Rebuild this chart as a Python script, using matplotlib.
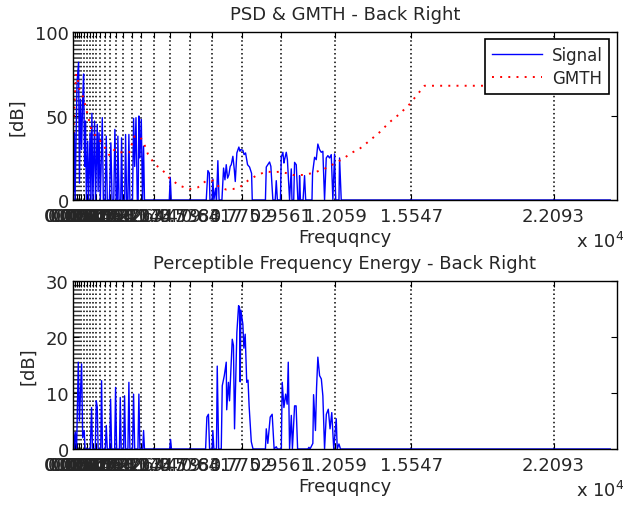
import matplotlib
matplotlib.use('Agg')
import matplotlib.pyplot as plt

# -- Critical band edges (Hz) used as x ticks / grid -------------------
edge_hz = [0, 86, 172, 301, 388, 517, 646, 775, 904, 1077, 1249, 1464, 1722,
           1981, 2326, 2713, 3143, 3747, 4479, 5383, 6417, 7752, 9561, 12059,
           15547, 22093]

# -- PSD of the signal (Hz, dB) ----------------------------------------
sig_f = [0, 20, 45, 70, 100, 140, 190, 262, 300, 350, 400, 450, 492, 540, 580,
         620, 680, 720, 790, 830, 873, 920, 997, 1040, 1120, 1160, 1200, 1260,
         1351, 1400, 1480, 1535, 1580, 1680, 1746, 1800, 1880, 1930, 1990, 2040,
         2068, 2120, 2200, 2238, 2280, 2380, 2422, 2470, 2530, 2574, 2620, 2740,
         2790, 2840, 2900, 2960, 3000, 3033, 3080, 3144, 3200, 3249, 3290, 4430,
         4476, 4520, 6130, 6205, 6270, 6300, 6400, 6435, 6480, 6560, 6600, 6664,
         6720, 6850, 6926, 6990, 7049, 7110, 7170, 7230, 7280, 7354, 7420, 7464,
         7537, 7629, 7680, 7721, 7813, 7870, 7937, 8029, 8121, 8213, 8245, 8850,
         8889, 8960, 9040, 9100, 9192, 9300, 9348, 9400, 9540, 9578, 9652, 9700,
         9730, 9808, 9860, 9960, 10038, 10070, 10150, 10190, 10267, 10341, 10400,
         10419, 10460, 10580, 10649, 10700, 10990, 11017, 11109, 11186, 11260,
         11338, 11416, 11490, 11568, 11646, 11720, 11798, 11876, 11950, 12028,
         12080, 12230, 12258, 12335, 24700]
sig_db = [0, 44, 5, 40, 0, 30, 70, 82, 10, 60, 30, 60, 75, 20, 47,
          0, 35, 0, 40, 0, 51.6, 0, 47, 0, 45, 5, 40, 0,
          49, 0, 0, 38, 0, 0, 34, 0, 0, 42, 0, 0,
          38, 0, 0, 37, 0, 0, 39, 0, 0, 39, 0, 0,
          48.6, 20, 49, 0, 0, 50, 25, 48, 0, 32, 0, 0,
          13.5, 0, 0, 17.5, 16, 0, 0, 12.5, 0, 7, 0, 23.4,
          0, 0, 19, 12, 21, 13, 15, 20, 21, 26, 18, 11,
          28, 31.5, 29, 30, 29.6, 27, 28, 21, 19.6, 15.9, 0, 0,
          19.6, 21, 22.6, 20, 0, 0, 11.5, 0, 0, 25.4, 28.4, 22,
          24, 28.4, 24, 0, 18.5, 0, 0, 22.4, 21, 0, 0,
          14.5, 0, 0, 14.5, 0, 0, 16, 25.4, 24, 33.3,
          30, 28.4, 29, 0, 25, 26.4, 25, 27, 0, 27.4,
          0, 0, 25, 0, 0]

# -- Global masking threshold (Hz, dB) ---------------------------------
gm_f = [0, 40, 90, 150, 220, 300, 400, 540, 690, 845, 1075, 1305, 1535, 1687,
        1917, 2146, 2606, 2684, 2836, 3065, 3249, 3447, 3754, 4136, 4476, 4904,
        5363, 5745, 6131, 6435, 6742, 7049, 7354, 7661, 8043, 8429, 8889, 9194,
        9500, 9808, 10111, 10571, 10801, 11031, 11338, 11720, 12106, 12410,
        12796, 13172, 13636, 14096, 14555, 15015, 15475, 15783, 16164, 24700]
gm_db = [35, 45, 62, 75, 72, 66, 64, 58, 50, 42, 37.5, 34.5, 30, 26.4,
         30, 28.4, 28.4, 32.3, 37.9, 37.9, 34.3, 27.4, 21.4, 17.5, 12.5, 8.5,
         6.5, 7.5, 11.5, 11.5, 7.5, 6.2, 6.5, 7.5, 11.5, 14.5, 17, 16.5,
         16.8, 16, 14.9, 14.9, 15.5, 16, 17.5, 19.4, 22.4, 24.4,
         28, 30.4, 35.3, 40.3, 46.3, 51.2, 57, 62, 68, 68]

# -- Perceptible frequency energy (Hz, dB) -----------------------------
pe_f = [0, 20, 60, 110, 170, 248, 300, 400, 450, 520, 560, 800, 859, 900, 1030,
        1075, 1120, 1160, 1280, 1319, 1360, 1490, 1535, 1580, 1690, 1733, 1780,
        1920, 1962, 2010, 2140, 2178, 2220, 2330, 2376, 2420, 2530, 2574, 2620,
        2740, 2790, 2840, 2990, 3033, 3080, 3210, 3249, 3290, 4450, 4490, 4530,
        6100, 6159, 6230, 6283, 6400, 6434, 6480, 6600, 6635, 6700, 6820, 6866,
        6960, 7049, 7070, 7150, 7200, 7325, 7380, 7430, 7537, 7616, 7660, 7690,
        7720, 7813, 7860, 7920, 7990, 8050, 8100, 8200, 8280, 8850, 8889, 8960,
        9070, 9160, 9250, 9348, 9400, 9580, 9622, 9700, 9780, 9850, 9900, 9960,
        10040, 10090, 10190, 10260, 10330, 10800, 10850, 10900, 11030, 11063,
        11150, 11200, 11260, 11340, 11420, 11490, 11568, 11650, 11740, 11820,
        11900, 11990, 12106, 12150, 12230, 12300, 24700]
pe_db = [0, 3.3, 0, 3, 0, 15.5, 5, 15.2, 2, 3.3, 0, 0, 7.4, 0, 0,
         8.6, 7.5, 0, 0, 12.2, 0, 0, 4.2, 0, 0, 8.9, 0,
         0, 11, 0, 0, 9.2, 0, 0, 9.5, 0, 0, 11.9, 0,
         0, 9.8, 0, 0, 9.8, 0, 0, 3.3, 0, 0, 1.7, 0,
         0, 5.7, 6.2, 0, 0, 3.3, 0, 0, 14.8, 0, 0, 11.3,
         13.1, 15.5, 7, 11.9, 8.6, 19.6, 18.5, 3.6, 20.8, 25.6, 25.3, 12,
         24.8, 22.3, 18, 20.5, 11.9, 12.3, 7.7, 1.3, 0, 0, 3.6, 1,
         5.7, 6.2, 0, 0.4, 0, 0, 11.9, 7.4, 9.8, 8, 15.5, 0,
         6, 0, 7.7, 7.7, 0, 0, 0.3, 0, 1, 9.7,
         3.3, 10.9, 16.4, 13.1, 12.5, 9.5, 0, 6.2, 7.1, 3.6,
         6.5, 0, 5.4, 0, 0.9, 0, 0]

FS = 13
C_TXT = '#262626'
plt.rcParams['font.family'] = 'DejaVu Sans'
plt.rcParams['text.color'] = C_TXT


def tick_label(v):
    if v == 0:
        return '0'
    return '{0:.4f}'.format(v / 1e4).rstrip('0').rstrip('.')


def style_axes(ax, ymax, yticks):
    ax.set_xlim(0, 25000)
    ax.set_ylim(0, ymax)
    ax.set_xticks(edge_hz)
    ax.set_xticklabels([tick_label(v) for v in edge_hz], fontsize=FS)
    ax.set_yticks(yticks)
    ax.set_yticklabels([str(v) for v in yticks], fontsize=FS)
    ax.tick_params(direction='in', length=4, width=0.8, top=True, right=True,
                   pad=3, color='black', labelcolor=C_TXT)
    ax.tick_params(axis='x', pad=5)
    for e in edge_hz:
        ax.axvline(e, color='black', linestyle=(0, (1, 1.8)), linewidth=1.1,
                   zorder=1)
    for sp in ax.spines.values():
        sp.set_linewidth(1.0)
        sp.set_zorder(5)
    ax.set_xlabel('Frequqncy', fontsize=FS, labelpad=2, color=C_TXT)
    ax.set_ylabel('[dB]', fontsize=FS, labelpad=6, color=C_TXT)


fig = plt.figure(figsize=(6.23, 5.06), dpi=100, facecolor='white')
ax1 = fig.add_axes([0.117, 0.6028, 0.873, 0.332])
ax2 = fig.add_axes([0.117, 0.1107, 0.873, 0.332])

# -- Top: PSD & GMTH ---------------------------------------------------
ax1.plot(sig_f, sig_db, color='blue', linewidth=1.0, zorder=3, label='Signal')
ax1.plot(gm_f, gm_db, color='red', linestyle=(0, (1, 3.2)), linewidth=1.4,
         zorder=4, label='GMTH')
style_axes(ax1, 100, [0, 50, 100])
ax1.set_title('PSD & GMTH - Back Right', fontsize=FS, pad=9, color=C_TXT)
leg = ax1.legend(loc='upper right', fontsize=FS - 1, frameon=True,
                 fancybox=False, edgecolor='black', framealpha=1,
                 handlelength=3.0, borderpad=0.4, labelspacing=0.3,
                 handletextpad=0.6, borderaxespad=0.45)
leg.get_frame().set_linewidth(1.2)
leg.set_zorder(10)

# -- Bottom: perceptible energy ----------------------------------------
ax2.plot(pe_f, pe_db, color='blue', linewidth=1.0, zorder=3)
style_axes(ax2, 30, [0, 10, 20, 30])
ax2.set_title('Perceptible Frequency Energy - Back Right', fontsize=FS, pad=9,
              color=C_TXT)

# MATLAB style exponent labels
fig.text(0.924, 0.522, r'x 10$^4$', fontsize=FS, ha='left', va='center')
fig.text(0.924, 0.030, r'x 10$^4$', fontsize=FS, ha='left', va='center')

fig.savefig('out.png', dpi=100, facecolor='white')
